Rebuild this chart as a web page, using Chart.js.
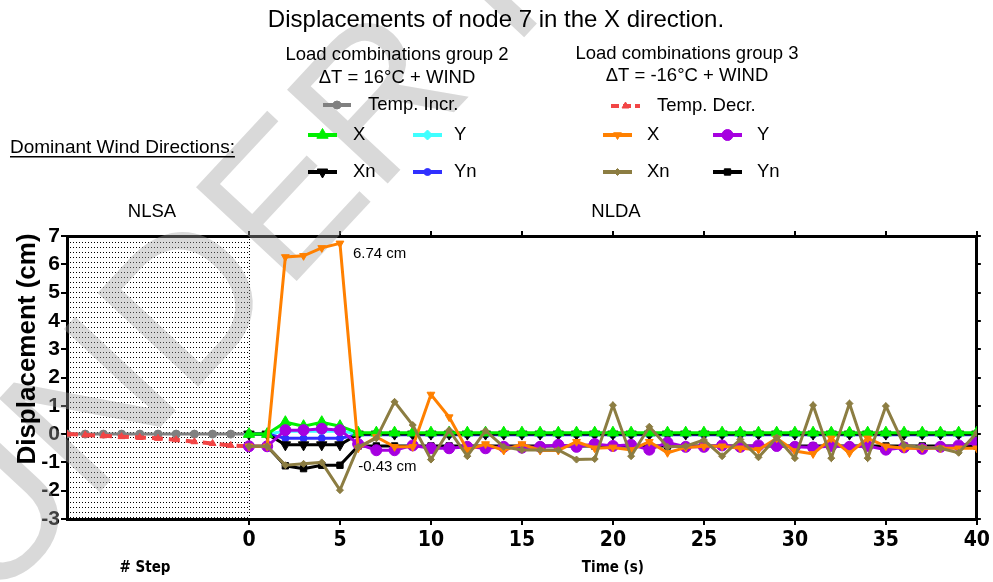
<!DOCTYPE html>
<html>
<head>
<meta charset="utf-8">
<script src="https://cdn.jsdelivr.net/npm/chart.js@4.4.0/dist/chart.umd.min.js"></script>
<style>
body{margin:0;background:#fff;}
#wrap{width:993px;height:582px;}
</style>
</head>
<body>
<div id="wrap"><canvas id="myChart" width="993" height="582"></canvas></div>
<script>
// x values
const stepX = [-10,-9,-8,-7,-6,-5,-4,-3,-2,-1,0];
const timeX = [0,1,2,3,4,5,6,7,8,9,10,11,12,13,14,15,16,17,18,19,20,21,22,23,24,25,26,27,28,29,30,31,32,33,34,35,36,37,38,39,40];
const xTicks = [0,5,10,15,20,25,30,35,40];
const yTicks = [-3,-2,-1,0,1,2,3,4,5,6,7];

// NLSA (temperature steps)
const tempIncr = [0,0,0,0,0,0,0,0,0,0,0];
const tempDecr = [0,-0.03,-0.06,-0.09,-0.12,-0.15,-0.2,-0.27,-0.33,-0.4,-0.43];

// group 2 : dT = +16C + wind
const g2X  = [0,0,0.42,0.28,0.42,0.28,0.05,0.05,0.05,0.05,0.05,0.05,0.05,0.05,0.05,0.05,0.05,0.05,0.05,0.05,0.05,0.05,0.05,0.05,0.05,0.05,0.05,0.05,0.05,0.05,0.05,0.05,0.05,0.05,0.05,0.05,0.05,0.05,0.05,0.05,0.05];
const g2Y  = [0,0,0.1,0.1,0.1,0.1,0.02,0.02,0.02,0.02,0.02,0.02,0.02,0.02,0.02,0.02,0.02,0.02,0.02,0.02,0.02,0.02,0.02,0.02,0.02,0.02,0.02,0.02,0.02,0.02,0.02,0.02,0.02,0.02,0.02,0.02,0.02,0.02,0.02,0.02,0.02];
const g2Xn = [0,0,-0.38,-0.38,-0.38,-0.38,0,0,0,0,0,0,0,0,0,0,0,0,0,0,0,0,0,0,0,0,0,0,0,0,0,0,0,0,0,0,0,0,0,0,0];
const g2Yn = [0,0,-0.15,-0.15,-0.15,-0.15,-0.02,-0.02,-0.02,-0.02,-0.02,-0.02,-0.02,-0.02,-0.02,-0.02,-0.02,-0.02,-0.02,-0.02,-0.02,-0.02,-0.02,-0.02,-0.02,-0.02,-0.02,-0.02,-0.02,-0.02,-0.02,-0.02,-0.02,-0.02,-0.02,-0.02,-0.02,-0.02,-0.02,-0.02,-0.02];

// group 3 : dT = -16C + wind
const g3X  = [-0.43,-0.43,6.26,6.3,6.58,6.74,-0.5,-0.1,-0.45,-0.45,1.4,0.6,-0.56,-0.35,-0.58,-0.35,-0.58,-0.58,-0.27,-0.5,-0.47,-0.56,-0.27,-0.66,-0.47,-0.43,-0.43,-0.5,-0.55,-0.15,-0.6,-0.7,-0.15,-0.67,-0.15,-0.43,-0.5,-0.5,-0.5,-0.5,-0.5];
const g3Y  = [-0.43,-0.43,0.14,0.14,0.19,0.14,-0.35,-0.57,-0.57,-0.4,-0.5,-0.5,-0.45,-0.5,-0.45,-0.48,-0.45,-0.38,-0.45,-0.35,-0.42,-0.38,-0.55,-0.3,-0.45,-0.45,-0.4,-0.45,-0.4,-0.42,-0.45,-0.47,-0.42,-0.45,-0.42,-0.55,-0.47,-0.52,-0.45,-0.4,-0.3];
const g3Xn = [-0.43,-0.43,-1.1,-1.05,-1.0,-1.98,-0.45,-0.15,1.14,0.32,-0.9,0.14,-0.78,0.12,-0.45,-0.56,-0.56,-0.56,-0.9,-0.88,1.02,-0.78,0.26,-0.45,-0.43,-0.21,-0.78,-0.19,-0.82,-0.12,-0.85,1.02,-0.85,1.08,-0.85,0.99,-0.39,-0.47,-0.5,-0.66,0.05];
const g3Yn = [-0.43,-0.43,-1.12,-1.22,-1.1,-1.1,-0.42,-0.42,-0.42,-0.42,-0.42,-0.42,-0.42,-0.42,-0.42,-0.42,-0.42,-0.42,-0.42,-0.42,-0.42,-0.42,-0.42,-0.42,-0.42,-0.42,-0.42,-0.42,-0.42,-0.42,-0.42,-0.42,-0.42,-0.42,-0.42,-0.42,-0.42,-0.42,-0.42,-0.42,-0.42];

const ARIAL = '"Liberation Sans", Arial, sans-serif';
const NARROW = '"Liberation Sans Narrow", "DejaVu Sans Condensed", "Liberation Sans", sans-serif';

function pts(xs, ys){
    return xs.map((x,i)=>({x:x, y:ys[i]}));
}
function series(label, xs, ys, color, style, radius, rot, dash){
    return {
        label: label,
        data: pts(xs, ys),
        borderColor: color,
        backgroundColor: color,
        borderWidth: 3,
        borderDash: dash || [],
        pointStyle: style,
        pointRadius: radius,
        pointRotation: rot || 0,
        pointBorderWidth: 1,
        tension: 0
    };
}

// first in list = drawn on top
var datasets = [
    series('g3Xn', timeX, g3Xn, '#8c7d42', 'rectRot', 3.5),
    series('g3X', timeX, g3X, '#ff8000', 'triangle', 4.5, 180),
    series('g3Y', timeX, g3Y, '#a600e0', 'circle', 5.5),
    series('g3Yn', timeX, g3Yn, '#000000', 'rect', 4.5),
    series('decr', stepX, tempDecr, '#f24545', 'triangle', 4, 0, [11,6]),
    series('g2X', timeX, g2X, '#00f000', 'triangle', 6.5),
    series('g2Xn', timeX, g2Xn, '#000000', 'triangle', 6, 180),
    series('g2Yn', timeX, g2Yn, '#3030ff', 'circle', 3.5),
    series('g2Y', timeX, g2Y, '#40ffff', 'rectRot', 5),
    series('incr', stepX, tempIncr, '#808080', 'circle', 4)
];
datasets.forEach((d,i)=>{ d.order = i; });
datasets[4].borderWidth = 4;

// legend layout
const legendRows = [
    {key:'incr', x1:323, x2:351, y:105, text:'Temp. Incr.', tx:368},
    {key:'g2X', x1:308, x2:337, y:135, text:'X', tx:353},
    {key:'g2Y', x1:413, x2:442, y:135, text:'Y', tx:454},
    {key:'g2Xn', x1:308, x2:337, y:172, text:'Xn', tx:353},
    {key:'g2Yn', x1:413, x2:442, y:172, text:'Yn', tx:454},
    {key:'decr', x1:611, x2:640, y:106, text:'Temp. Decr.', tx:657},
    {key:'g3X', x1:603, x2:632, y:135, text:'X', tx:647},
    {key:'g3Y', x1:713, x2:742, y:135, text:'Y', tx:757},
    {key:'g3Xn', x1:603, x2:632, y:172, text:'Xn', tx:647},
    {key:'g3Yn', x1:713, x2:742, y:172, text:'Yn', tx:757}
];

function makeDots(){
    var c = document.createElement('canvas');
    c.width = 3; c.height = 5;
    var cx = c.getContext('2d');
    cx.fillStyle = '#000';
    cx.fillRect(1,2,1,1);
    return c;
}

const decor = {
    id: 'decor',
    beforeDraw(chart){
        var ctx = chart.ctx;
        ctx.save();
        ctx.fillStyle = '#fff';
        ctx.fillRect(0,0,chart.width,chart.height);
        ctx.restore();
    },
    beforeDatasetsDraw(chart){
        var ctx = chart.ctx, xs = chart.scales.x, a = chart.chartArea;
        var left = xs.getPixelForValue(stepX[0]), right = xs.getPixelForValue(0);
        ctx.save();
        ctx.fillStyle = ctx.createPattern(makeDots(), 'repeat');
        ctx.fillRect(left, a.top, right - left, a.bottom - a.top);
        ctx.strokeStyle = '#000';
        ctx.lineWidth = 1;
        ctx.setLineDash([1,2]);
        ctx.beginPath();
        ctx.moveTo(right + 0.5, a.top); ctx.lineTo(right + 0.5, a.bottom);
        ctx.stroke();
        ctx.restore();
        // watermark
        ctx.save();
        ctx.translate(-10, 610);
        ctx.rotate(-47 * Math.PI / 180);
        ctx.font = '200px ' + ARIAL;
        ctx.fillStyle = 'rgba(160,160,160,0.4)';
        ctx.textBaseline = 'alphabetic';
        ctx.fillText('UNDER REVIEW', 0, 0);
        ctx.restore();
    },
    afterDraw(chart){
        var ctx = chart.ctx, xs = chart.scales.x, ys = chart.scales.y;
        var byKey = {};
        chart.data.datasets.forEach(d => { byKey[d.label] = d; });
        ctx.save();
        ctx.fillStyle = '#000';
        ctx.textBaseline = 'middle';
        ctx.textAlign = 'center';
        ctx.font = '24px ' + ARIAL;
        ctx.fillText('Displacements of node 7 in the X direction.', 496, 20);
        ctx.font = '18.5px ' + ARIAL;
        ctx.fillText('Load combinations group 2', 397, 55);
        ctx.fillText('\u0394T = 16\u00B0C + WIND', 397, 78);
        ctx.fillText('Load combinations group 3', 687, 54);
        ctx.fillText('\u0394T = -16\u00B0C + WIND', 687, 76);
        ctx.fillText('NLSA', 152, 212);
        ctx.fillText('NLDA', 616, 212);
        // dominant wind
        ctx.textAlign = 'left';
        ctx.font = '19px ' + ARIAL;
        var t = 'Dominant Wind Directions:';
        ctx.fillText(t, 10, 148);
        var w = ctx.measureText(t).width;
        ctx.fillRect(10, 156, w, 1.5);
        // legend rows
        legendRows.forEach(r => {
            var d = byKey[r.key];
            ctx.save();
            ctx.strokeStyle = d.borderColor;
            ctx.fillStyle = d.backgroundColor;
            ctx.lineWidth = 4;
            ctx.setLineDash(d.borderDash.length ? [8,4] : []);
            ctx.beginPath();
            ctx.moveTo(r.x1, r.y); ctx.lineTo(r.x2, r.y);
            ctx.stroke();
            ctx.setLineDash([]);
            ctx.lineWidth = 1;
            Chart.helpers.drawPoint(ctx, {pointStyle: d.pointStyle, rotation: d.pointRotation, radius: d.pointRadius, borderWidth: 1}, (r.x1 + r.x2) / 2, r.y);
            ctx.restore();
            ctx.font = '18.5px ' + ARIAL;
            ctx.fillText(r.text, r.tx, r.y);
        });
        // value notes
        ctx.font = '15px ' + ARIAL;
        ctx.fillText('6.74 cm', xs.getPixelForValue(5) + 13, ys.getPixelForValue(6.74) + 11);
        ctx.fillText('-0.43 cm', xs.getPixelForValue(6) + 0, ys.getPixelForValue(-0.43) + 21);
        // axis titles
        ctx.textAlign = 'center';
        ctx.font = 'bold 15px ' + NARROW;
        ctx.fillText('# Step', 145, 568);
        ctx.fillText('Time (s)', (xs.getPixelForValue(0) + xs.getPixelForValue(40)) / 2, 568);
        ctx.translate(28, 349);
        ctx.rotate(-Math.PI / 2);
        ctx.font = 'bold 26px ' + ARIAL;
        ctx.fillText('Displacement (cm)', 0, 0);
        ctx.restore();
    }
};

const tickGrid = {drawOnChartArea:false, drawTicks:true, tickLength:6, color:'#000', lineWidth:2};
const axisBorder = {color:'#000', width:3};

const ctx = document.getElementById('myChart').getContext('2d');
const myChart = new Chart(ctx, {
    type: 'line',
    data: { datasets: datasets },
    plugins: [decor],
    options: {
        responsive: false,
        animation: false,
        devicePixelRatio: 1,
        layout: { padding: 0 },
        plugins: { legend: {display:false}, title: {display:false}, tooltip: {enabled:false} },
        scales: {
            x: {
                type: 'linear', position: 'bottom', min: -10, max: 40,
                afterBuildTicks: s => { s.ticks = xTicks.map(v => ({value: v})); },
                afterFit: s => { s.height = 63; },
                grid: tickGrid, border: axisBorder,
                ticks: { color:'#000', padding: 3, font: {family: NARROW, size: 21, weight: 'bold'}, maxRotation: 0 }
            },
            x2: {
                type: 'linear', position: 'top', min: -10, max: 40,
                afterBuildTicks: s => { s.ticks = xTicks.map(v => ({value: v})); },
                afterFit: s => { s.height = 236; },
                grid: {drawOnChartArea:false, drawTicks:true, tickLength:5, color:'#000', lineWidth:2},
                border: axisBorder,
                ticks: { callback: () => '' }
            },
            y: {
                type: 'linear', position: 'left', min: -3, max: 7,
                afterBuildTicks: s => { s.ticks = yTicks.map(v => ({value: v})); },
                afterFit: s => { s.width = 67; },
                grid: tickGrid, border: axisBorder,
                ticks: { color:'#000', padding: 1, font: {family: ARIAL, size: 21, weight: 'bold'} }
            },
            y2: {
                type: 'linear', position: 'right', min: -3, max: 7,
                afterBuildTicks: s => { s.ticks = yTicks.map(v => ({value: v})); },
                afterFit: s => { s.width = 12; },
                grid: {drawOnChartArea:false, drawTicks:true, tickLength:4, color:'#000', lineWidth:2},
                border: axisBorder,
                ticks: { callback: () => '' }
            }
        }
    }
});
</script>
</body>
</html>
